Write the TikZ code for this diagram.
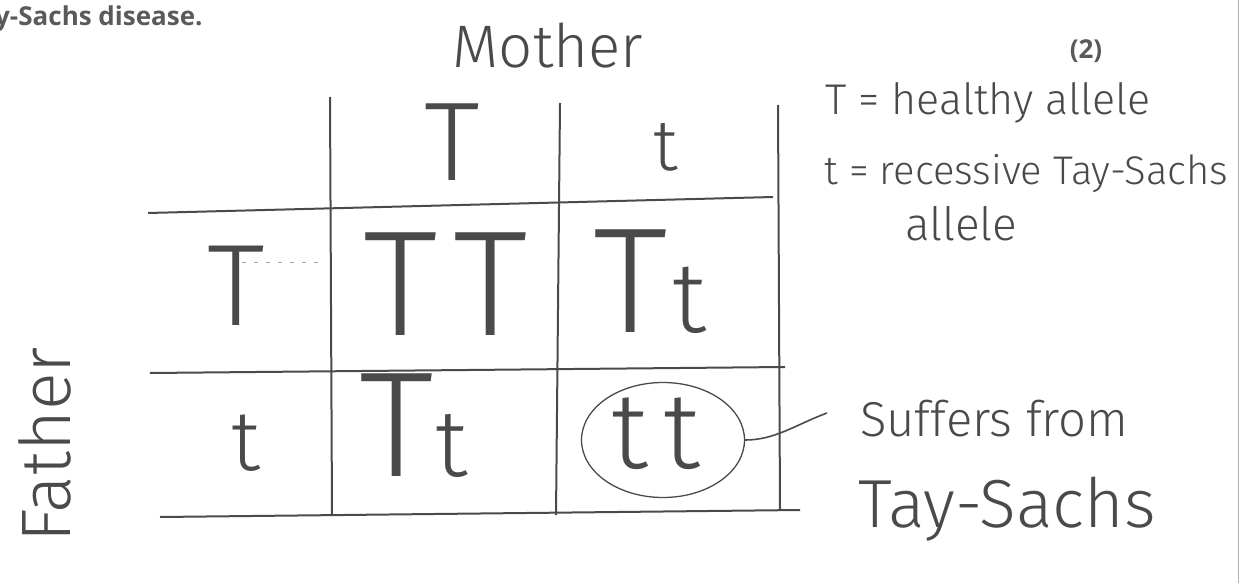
\documentclass[tikz,border=0pt]{standalone}
\usepackage{fontspec}
\usetikzlibrary{shapes.geometric}
\setmainfont{Open Sans}
\newfontfamily\hand{Fira Sans Light}
\definecolor{ink}{HTML}{4A4A4A}
\definecolor{printed}{HTML}{5A5A5A}
\newcommand\hsz[2]{{\fontsize{#1}{#1}\selectfont #2}}
\begin{document}
\begin{tikzpicture}[x=1pt,y=-1pt,
  grid/.style={draw=ink,line width=2pt},
  hw/.style={text=ink,inner sep=0pt,anchor=base,font=\hand\fontsize{#1}{#1}\selectfont},
  hw/.default=100,
  prt/.style={text=printed,inner sep=0pt,font=\bfseries\fontsize{#1}{#1}\selectfont}]
\useasboundingbox (0,0) rectangle (1249,583);
% printed text
\node[prt=26,anchor=base west] (q) at (-5,26) {y-Sachs disease.};
\node[prt=26] (mk) at (1086,51) {(2)};
\draw[draw=black!30,line width=0.8pt] (1238,0) -- (1238,583);
% grid
\draw[grid] (148,213) -- (773,197);
\draw[grid] (150,373) -- (785,367);
\draw[grid] (160,517) -- (800,510);
\draw[grid] (330,97) -- (332,515);
\draw[grid] (560,103) -- (556,515);
\draw[grid] (778,105) -- (780,510);
\draw[draw=black!35,line width=1pt,dash pattern=on 4pt off 8pt] (242,262) -- (326,262);
% headings
\node[hw=60] (mother) at (548,68) {Mother};
\node[hw=70,rotate=90,anchor=center] (father) at (45,445) {Father};
% cells
\node[hw=112] (hT) at (452,180) {T};
\node[hw=72] (ht) at (666,170) {t};
\node[hw=116] (rT) at (236,325) {T};
\node[hw=150] (TT) at (446,335) {T\kern16pt T};
\node[hw] (Tt1) at (650,332) {\hsz{150}{T}\kern4pt\hsz{100}{t}};
\node[hw=85] (rt) at (246,470) {t};
\node[hw] (Tt2) at (414,476) {\hsz{150}{T}\kern2pt\hsz{95}{t}};
\node[hw=108] (tt) at (656,468) {t\kern16pt t};
\node[draw=ink,line width=1.3pt,ellipse,minimum width=163pt,minimum height=115pt] (circ) at (663,440) {};
% key
\node[hw=43,anchor=base west] (key1) at (825,114) {T = healthy allele};
\node[hw=40,anchor=base west] (key2) at (824,184) {t = recessive Tay-Sachs};
\node[hw=46,anchor=base west] (key3) at (905,240) {allele};
% annotation
\coordinate (lead) at (827,413);
\draw[draw=ink,line width=1.6pt] (circ.east) .. controls (775,440) and (795,425) .. (lead);
\node[hw=49,anchor=base west] (suf) at (860,436) {Suffers from};
\node[hw=68,anchor=base west] (tay) at (858,527) {Tay-Sachs};
\end{tikzpicture}
\end{document}
